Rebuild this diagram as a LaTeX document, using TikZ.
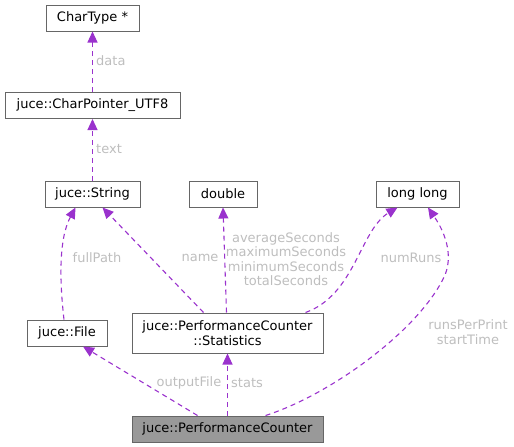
\documentclass[tikz,border=0pt]{standalone}
\usepackage{fontspec}
\setmainfont{DejaVu Sans}
\usepackage{tikz}
\usetikzlibrary{arrows.meta}
\definecolor{edgecol}{HTML}{9A32CD}
\definecolor{labelcol}{HTML}{BEBEBE}
\definecolor{boxcol}{HTML}{666666}
\definecolor{maincol}{HTML}{999999}
\newcommand{\dfont}{\fontsize{13}{14.5}\selectfont}

\tikzset{
  classbox/.style={draw=boxcol, line width=1pt, fill=white, inner sep=2pt,
    minimum height=26pt, align=center, font=\dfont},
  member/.style={edgecol, line width=1.1pt, dash pattern=on 5pt off 4pt,
    -{Triangle[length=11pt,width=10pt]}},
  memberlabel/.style={labelcol, inner sep=0pt, align=center, font=\dfont}
}

\begin{document}
\begin{tikzpicture}[x=1pt, y=-1pt]
    \useasboundingbox (0, 0) rectangle (514, 447);

    \node[classbox, minimum width=93pt] (chartype) at (92.5, 18) {CharType *};
    \node[classbox, minimum width=175pt] (charptr) at (92.5, 105.5) {juce::CharPointer\_UTF8};
    \node[classbox, minimum width=95pt] (string) at (92.5, 194) {juce::String};
    \node[classbox, minimum width=68pt] (double) at (223, 194) {double};
    \node[classbox, minimum width=83pt] (longlong) at (417.5, 194) {long long};
    \node[classbox, minimum width=80pt] (file) at (67, 333) {juce::File};
    \node[classbox, minimum width=191pt, minimum height=40pt] (stats) at (227.5, 333)
        {juce::PerformanceCounter\\::Statistics};
    \node[classbox, minimum width=191pt, fill=maincol] (counter) at (227.5, 429)
        {juce::PerformanceCounter};

    % libelles des membres
    \node[memberlabel, anchor=west] (ldata) at (96, 61) {data};
    \node[memberlabel, anchor=west] (ltext) at (96, 149) {text};
    \node[memberlabel] (lpath) at (97, 258) {fullPath};
    \node[memberlabel] (lname) at (200, 258) {name};
    \node[memberlabel] (lsecs) at (286, 259)
        {averageSeconds\\maximumSeconds\\minimumSeconds\\totalSeconds};
    \node[memberlabel] (lruns) at (411, 258) {numRuns};
    \node[memberlabel] (ltime) at (468, 332) {runsPerPrint\\startTime};
    \node[memberlabel] (lfile) at (189, 383) {outputFile};
    \node[memberlabel, anchor=west] (lstats) at (231, 383) {stats};

    % aretes
    \draw[member] (charptr.north) -- (chartype.south);
    \draw[member] (string.north) -- (charptr.south);
    \draw[member] ([xshift=-3pt]file.north) .. controls (60, 285) and (58, 240)
        .. ([xshift=-17pt]string.south);
    \draw[member] ([xshift=-24pt]stats.north) -- ([xshift=10pt]string.south);
    \draw[member] ([xshift=-1pt]stats.north) -- (double.south);
    \draw[member] ([xshift=78pt]stats.north) .. controls (355, 295) and (360, 230)
        .. ([xshift=-20pt]longlong.south);
    \draw[member] ([xshift=-30pt]counter.north) -- ([xshift=16pt]file.south);
    \draw[member] (counter.north) -- (stats.south);
    \draw[member] ([xshift=38pt]counter.north) .. controls (330, 395) and (420, 330)
        .. (445, 275) .. controls (455, 250) and (440, 225) .. ([xshift=10.5pt]longlong.south);

\end{tikzpicture}
\end{document}
